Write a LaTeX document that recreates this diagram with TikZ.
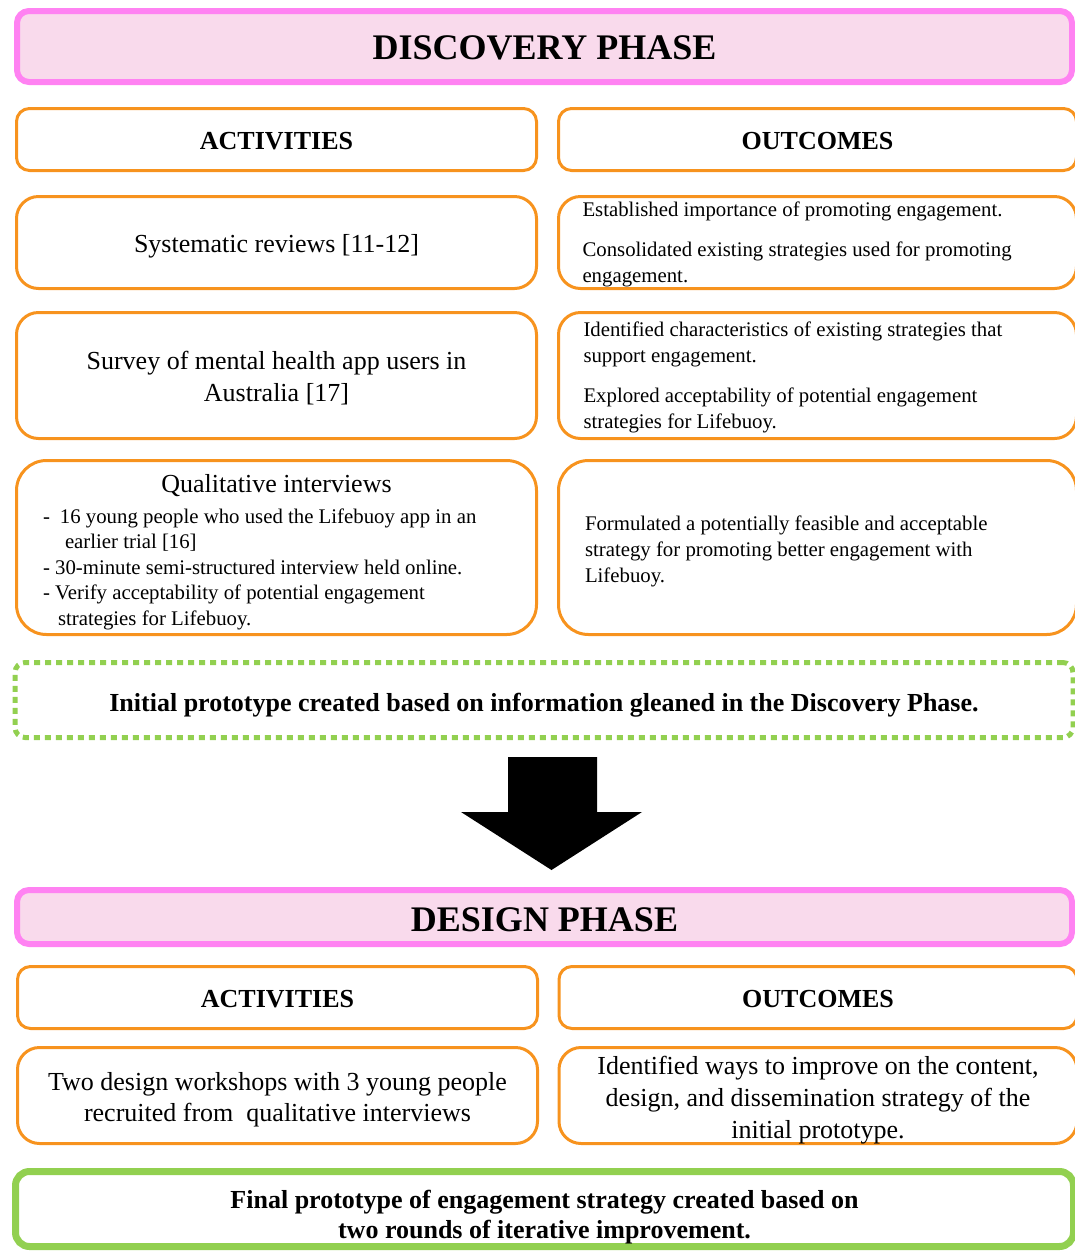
\documentclass[tikz,border=0pt]{standalone}
\usepackage{fontspec}
\setmainfont{Liberation Serif}
\usetikzlibrary{positioning}

\definecolor{phasepink}{HTML}{FF82F2}
\definecolor{phasefill}{HTML}{F9DAEC}
\definecolor{boxorange}{HTML}{F7931E}
\definecolor{leafgreen}{HTML}{92D050}

\newcommand{\bigtext}{\fontsize{26}{31}\selectfont}
\newcommand{\smalltext}{\fontsize{20.8}{26}\selectfont}

\tikzset{
  % first baseline sits #1 below / above the box centre
  basedown/.style={text depth=0pt, text height=#1},
  baseup/.style={text height=0pt, text depth=#1},
  phasebox/.style={draw=phasepink, fill=phasefill, line width=6pt, rounded corners=12pt,
    minimum width=1055pt, inner ysep=2pt, font=\fontsize{36}{40}\selectfont\bfseries},
  headbox/.style={draw=boxorange, line width=3pt, rounded corners=13pt, minimum height=62pt,
    inner ysep=2pt, font=\bigtext\bfseries, basedown=19pt},
  bodybox/.style={draw=boxorange, line width=3pt, rounded corners=22pt, inner ysep=2pt},
  leftbox/.style={minimum width=520pt},
  rightbox/.style={minimum width=518pt},
}

\begin{document}
\begin{tikzpicture}[x=1pt,y=-1pt]
\clip (0,0) rectangle (1075,1254);
% discovery phase
\node[phasebox, minimum height=71pt, basedown=25pt] (discovery) at (544.5,46.5) {DISCOVERY PHASE};
\node[headbox, leftbox] (acthead) at (276.5,139.5) {ACTIVITIES};
\node[headbox, rightbox] (outhead) at (817.5,139.5) {OUTCOMES};

% row 1
\node[bodybox, leftbox, minimum height=92pt, font=\bigtext, basedown=19pt]
  (act1) at (276.5,242.5) {Systematic reviews [11-12]};
\node[bodybox, rightbox, minimum height=92pt, font=\smalltext, text width=470pt, align=flush left, baseup=53pt]
  (out1) at (817.5,242.5)
  {Established importance of promoting engagement.\\[14.5pt]
   Consolidated existing strategies used for promoting\\ engagement.};

% row 2
\node[bodybox, leftbox, minimum height=126pt, font=\fontsize{26}{32}\selectfont, text width=480pt,
  align=flush center, baseup=13pt] (act2) at (276.5,375.5)
  {Survey of mental health app users in\\ Australia [17]};
\node[bodybox, rightbox, minimum height=126pt, font=\smalltext, text width=468pt, align=flush left, baseup=79pt]
  (out2) at (817.5,375.5)
  {Identified characteristics of existing strategies that\\ support engagement.\\[14pt]
   Explored acceptability of potential engagement\\ strategies for Lifebuoy.};

% row 3
\node[bodybox, leftbox, minimum height=174pt, rounded corners=30pt, font=\fontsize{20.8}{25.5}\selectfont,
  text width=467pt, align=flush left, baseup=111pt] (act3) at (276.5,547.5)
  {\makebox[467pt]{\bigtext Qualitative interviews}\\[5.5pt]
   -\hspace{10pt}16 young people who used the Lifebuoy app in an\\
   \hspace*{22pt}earlier trial [16]\\
   - 30-minute semi-structured interview held online.\\
   - Verify acceptability of potential engagement\\
   \hspace*{15pt}strategies for Lifebuoy.};
\node[bodybox, rightbox, minimum height=174pt, rounded corners=30pt, font=\smalltext, text width=465pt,
  align=flush left, baseup=35pt] (out3) at (817.5,547.5)
  {Formulated a potentially feasible and acceptable\\ strategy for promoting better engagement with\\ Lifebuoy.};

% initial prototype
\node[draw=leafgreen, line width=5pt, dash pattern=on 6pt off 5pt, rounded corners=10pt,
  minimum width=1058pt, minimum height=75pt, inner ysep=2pt, basedown=22pt,
  font=\bigtext\bfseries] (initial) at (544,700)
  {Initial prototype created based on information gleaned in the Discovery Phase.};

% big arrow
\coordinate (tip) at (551.5,870);
\fill[black] (tip) -- ++(-90.5,-58) -- ++(47,0) -- ++(0,-55) -- ++(89,0) -- ++(0,55) -- ++(45,0) -- cycle;

% design phase
\node[phasebox, minimum height=54pt, basedown=28pt] (design) at (544.5,917) {DESIGN PHASE};
\node[headbox, leftbox] (acthead2) at (277.5,997.5) {ACTIVITIES};
\node[headbox, rightbox] (outhead2) at (818,997.5) {OUTCOMES};
\node[bodybox, leftbox, minimum height=96pt, font=\bigtext, text width=480pt, align=flush center, baseup=11pt]
  (act4) at (277.5,1095.5) {Two design workshops with 3 young people\\ recruited from\ \ qualitative interviews};
\node[bodybox, rightbox, minimum height=96pt, font=\fontsize{26}{32}\selectfont, text width=480pt,
  align=flush center, baseup=43pt] (out4) at (818,1095.5)
  {Identified ways to improve on the content,\\ design, and dissemination strategy of the\\ initial prototype.};

% final prototype
\node[draw=leafgreen, line width=7pt, rounded corners=14pt, minimum width=1058pt, minimum height=75pt,
  text width=1000pt, align=flush center, inner ysep=2pt, baseup=2pt,
  font=\fontsize{26}{30}\selectfont\bfseries] (final) at (544.5,1209)
  {Final prototype of engagement strategy created based on\\ two rounds of iterative improvement.};
\end{tikzpicture}
\end{document}
